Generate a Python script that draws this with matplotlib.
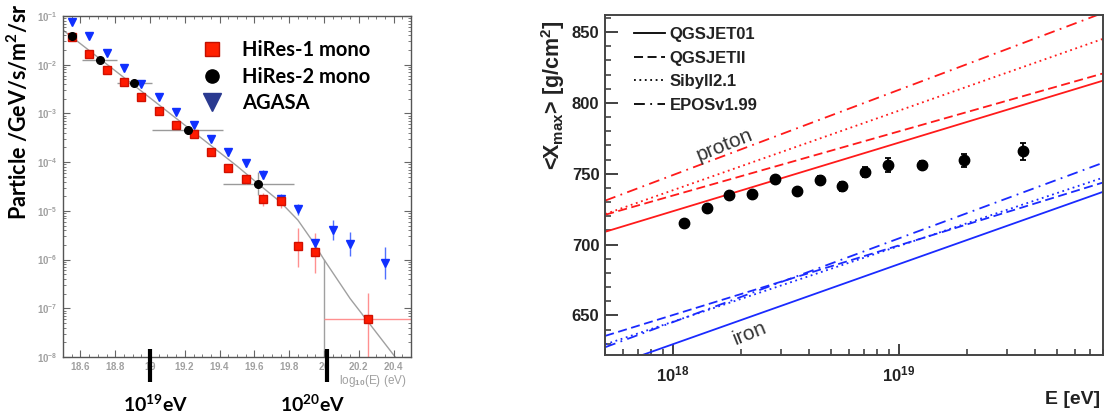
import numpy as np
import matplotlib
matplotlib.use('Agg')
import matplotlib.pyplot as plt
import matplotlib.transforms as mtransforms
from matplotlib.ticker import MultipleLocator, LogLocator, FuncFormatter, NullFormatter
from matplotlib.lines import Line2D

plt.rcParams['mathtext.fontset'] = 'custom'
plt.rcParams['mathtext.rm'] = 'Lato:bold'
plt.rcParams['mathtext.it'] = 'Lato:bold'
plt.rcParams['mathtext.bf'] = 'Lato:bold'
plt.rcParams['mathtext.sf'] = 'Liberation Sans:bold'
plt.rcParams['mathtext.tt'] = 'Liberation Sans'
plt.rcParams['font.family'] = ['Liberation Sans', 'DejaVu Sans']
plt.rcParams['font.weight'] = 'bold'

# ---------------- Left panel data (log10 E, log10 flux) ----------------
hires1_logE = [18.55, 18.65, 18.75, 18.85, 18.95, 19.05, 19.15, 19.25, 19.35, 19.45,
               19.55, 19.65, 19.75, 19.85, 19.95, 20.25]
hires1_logF = [-1.44, -1.77, -2.11, -2.36, -2.67, -2.95, -3.24, -3.42, -3.79, -4.11,
               -4.35, -4.76, -4.80, -5.72, -5.84, -7.21]
hires1_err_up = [0.03, 0.03, 0.03, 0.03, 0.03, 0.03, 0.04, 0.05, 0.05, 0.06,
                 0.08, 0.12, 0.12, 0.36, 0.38, 0.52]
hires1_err_dn = [0.03, 0.03, 0.03, 0.03, 0.03, 0.03, 0.04, 0.05, 0.05, 0.06,
                 0.09, 0.15, 0.15, 0.43, 0.44, 1.50]
hires1_xerr = [0, 0, 0, 0, 0, 0, 0, 0, 0, 0, 0, 0, 0, 0, 0, 0.25]

hires2_logE = [18.55, 18.71, 18.91, 19.22, 19.62]
hires2_logF = [-1.42, -1.90, -2.38, -3.34, -4.44]
hires2_xlo = [18.55, 18.61, 18.81, 19.01, 19.42]
hires2_xhi = [18.55, 18.81, 19.01, 19.42, 19.83]
hires2_err = [0.02, 0.03, 0.04, 0.08, 0.24]

agasa_logE = [18.55, 18.65, 18.75, 18.85, 18.95, 19.05, 19.15, 19.25, 19.35, 19.45,
              19.55, 19.65, 19.75, 19.85, 19.95, 20.05, 20.15, 20.35]
agasa_logF = [-1.12, -1.42, -1.75, -2.07, -2.40, -2.66, -2.98, -3.24, -3.53, -3.80,
              -4.01, -4.26, -4.76, -4.97, -5.67, -5.39, -5.68, -6.07]
agasa_err = [0.02, 0.02, 0.02, 0.03, 0.03, 0.03, 0.04, 0.05, 0.06, 0.07,
             0.08, 0.09, 0.1, 0.12, 0.1, 0.2, 0.25, 0.32]

fit_logE = [18.5, 19.0, 19.5, 19.62, 19.75, 19.85, 19.93, 20.0, 20.15, 20.42]
fit_logF = [-1.29, -2.68, -4.08, -4.44, -4.82, -5.19, -5.60, -6.00, -6.80, -8.05]
edge_logE = 20.0
edge_logF = -6.0

marker_logE = [19.0, 20.02]
marker_labels = ['10$^{19}$eV', '10$^{20}$eV']

# ---------------- Right panel data ----------------
xmax_logE = [18.05, 18.15, 18.25, 18.35, 18.45, 18.55, 18.65, 18.75, 18.85, 18.95,
             19.10, 19.29, 19.55]
xmax_val = [715, 725.5, 735, 736, 746, 737.5, 745.5, 741, 751, 756, 756, 759.5, 766]
xmax_err = [2, 2, 2, 2, 2.5, 2.5, 3, 3, 3.5, 5, 3, 4.5, 6]

model_names = ['QGSJET01', 'QGSJETII', 'Sibyll2.1', 'EPOSv1.99']
line_logE = [17.7, 19.9]
proton_xmax = [[709, 815.5], [721, 820.6], [721.5, 845], [731, 863.3]]
iron_xmax = [[612.7, 737], [635.5, 743.6], [629.5, 747], [627.5, 757.5]]

# ---------------- Figure ----------------
W, H = 1111, 415
fig = plt.figure(figsize=(W / 100, H / 100), dpi=100)


def fx(px):
    return px / W


def fy(py):
    return 1 - py / H


axL = fig.add_axes([fx(63), fy(357), 348 / W, 341 / H])
axR = fig.add_axes([fx(605), fy(355), 498 / W, 340 / H])

# ---------------- Left panel ----------------
RED = '#ff1a00'
axL.set_yscale('log')
axL.set_xlim(18.5, 20.5)
axL.set_ylim(1e-8, 1e-1)

axL.plot(fit_logE, 10 ** np.array(fit_logF), color='#a0a0a0', lw=1.0, zorder=1)
axL.plot([edge_logE, edge_logE], [10 ** edge_logF, 1e-8], color='#a0a0a0', lw=1.0, zorder=1)

# HiRes-2 horizontal bars
h2x = np.array(hires2_logE)
h2f = np.array(hires2_logF)
axL.errorbar(hires2_logE, 10 ** h2f,
             xerr=[h2x - np.array(hires2_xlo), np.array(hires2_xhi) - h2x],
             yerr=[10 ** h2f - 10 ** (h2f - np.array(hires2_err)),
                   10 ** (h2f + np.array(hires2_err)) - 10 ** h2f],
             fmt='none', ecolor='#9a9a9a', elinewidth=1.0, zorder=2)

# HiRes-1
f1 = np.array(hires1_logF)
axL.errorbar(hires1_logE, 10 ** f1, xerr=hires1_xerr,
             yerr=[10 ** f1 - 10 ** (f1 - np.array(hires1_err_dn)),
                   10 ** (f1 + np.array(hires1_err_up)) - 10 ** f1],
             fmt='none', ecolor='#ff9090', elinewidth=1.0, zorder=2)
axL.plot(hires1_logE, 10 ** f1, 's', color=RED, mec='#d01000', ms=6, zorder=4)

# AGASA
fa = np.array(agasa_logF)
axL.errorbar(agasa_logE, 10 ** fa,
             yerr=[10 ** fa - 10 ** (fa - np.array(agasa_err)),
                   10 ** (fa + np.array(agasa_err)) - 10 ** fa],
             fmt='none', ecolor='#5070ff', elinewidth=1.0, zorder=2)
axL.plot(agasa_logE, 10 ** fa, 'v', color='#1030ff', mec='#1030ff', ms=5.5, zorder=3)

# HiRes-2 points
axL.plot(hires2_logE, 10 ** h2f, 'o', color='black', ms=5.5, zorder=5)

for s in axL.spines.values():
    s.set_color('#555555')
    s.set_linewidth(1.0)
axL.xaxis.set_major_locator(MultipleLocator(0.2))
axL.xaxis.set_minor_locator(MultipleLocator(0.05))
axL.xaxis.set_major_formatter(FuncFormatter(lambda v, p: r'$\mathtt{%g}$' % round(v, 1)))
axL.yaxis.set_major_locator(LogLocator(base=10, numticks=12))
axL.yaxis.set_minor_locator(LogLocator(base=10, subs=np.arange(2, 10), numticks=12))
axL.yaxis.set_minor_formatter(NullFormatter())
axL.yaxis.set_major_formatter(FuncFormatter(lambda v, p: r'$\mathtt{10^{%d}}$' % int(round(np.log10(v)))))
axL.tick_params(which='both', direction='in', top=True, right=True, colors='#666666',
                labelcolor='#a0a0a0', labelsize=7)
axL.tick_params(which='major', length=5, width=0.8)
axL.tick_params(axis='x', which='major', pad=2.5)
axL.tick_params(axis='y', which='major', pad=4)
axL.tick_params(which='minor', length=2.5, width=0.6)

fig.text(fx(373), fy(381), r'log$_{\mathtt{10}}$(E) (eV)', color='#a0a0a0', fontsize=8.5,
         fontweight='normal', family='Liberation Sans', ha='center', va='center')

fig.text(fx(18), fy(112), 'Particle /GeV/s/m$^{2}$/sr', rotation=90, ha='center', va='center',
         fontsize=15.5, family='Lato', fontweight='bold', color='black')

# Left legend
hL = [Line2D([], [], marker='s', ls='none', color='#ff2000', mec='#c01000', ms=9.5),
      Line2D([], [], marker='o', ls='none', color='black', ms=9.5),
      Line2D([], [], marker='v', ls='none', color='#2a3a90', mec='#2a3a90', ms=13)]
legL = axL.legend(hL, ['HiRes-1 mono', 'HiRes-2 mono', 'AGASA'], loc='upper left',
                  bbox_to_anchor=(fx(200), fy(40)), bbox_transform=fig.transFigure,
                  frameon=False, borderpad=0, borderaxespad=0, handlelength=1.2,
                  handletextpad=0.9, labelspacing=0.33, numpoints=1,
                  prop=dict(family='Lato', weight='bold', size=14.5))

# thick markers + labels under left axis
trans = mtransforms.blended_transform_factory(axL.transData, axL.transAxes)
for xv in marker_logE:
    axL.plot([xv, xv], [0.0235, -0.073], transform=trans, color='black', lw=3,
             clip_on=False, solid_capstyle='butt', zorder=10)
fig.text(fx(156), fy(404), marker_labels[0], ha='center', va='center', fontsize=14,
         family='Lato', fontweight='bold')
fig.text(fx(313), fy(404), marker_labels[1], ha='center', va='center', fontsize=14,
         family='Lato', fontweight='bold')

# ---------------- Right panel ----------------
styles = ['-', (0, (5, 2.5)), (0, (1, 2)), (0, (6, 3, 1, 3))]
PRED = '#ff1a1a'
PBLUE = '#1a2aff'
axR.set_xscale('log')
axR.set_xlim(5e17, 8e19)
axR.set_ylim(622, 862)
Ex = 10 ** np.array(line_logE)
for i in range(4):
    axR.plot(Ex, proton_xmax[i], color=PRED, ls=styles[i], lw=1.3)
    axR.plot(Ex, iron_xmax[i], color=PBLUE, ls=styles[i], lw=1.3)

axR.errorbar(10 ** np.array(xmax_logE), xmax_val, yerr=xmax_err, fmt='o', color='black',
             ms=7.5, elinewidth=1.3, capsize=2.5, capthick=1.3, zorder=5)

axR.text(10 ** 18.23, 770.5, 'proton', rotation=22, ha='center', va='center', fontsize=15,
         fontweight='normal', color='#333333', family='Liberation Sans')
axR.text(10 ** 18.34, 637.5, 'iron', rotation=22, ha='center', va='center', fontsize=15,
         fontweight='normal', color='#333333', family='Liberation Sans')

for s in axR.spines.values():
    s.set_color('#444444')
    s.set_linewidth(1.4)
axR.yaxis.set_major_locator(MultipleLocator(50))
axR.yaxis.set_minor_locator(MultipleLocator(10))
axR.xaxis.set_major_locator(LogLocator(base=10, numticks=10))
axR.xaxis.set_minor_locator(LogLocator(base=10, subs=np.arange(2, 10), numticks=10))
axR.xaxis.set_minor_formatter(NullFormatter())
axR.xaxis.set_major_formatter(FuncFormatter(lambda v, p: r'$\mathsf{10^{%d}}$' % int(round(np.log10(v)))))
axR.tick_params(which='both', direction='in', top=False, right=False, colors='#333333',
                labelcolor='#222222', labelsize=12)
axR.tick_params(axis='y', which='major', length=9, width=1.3, pad=4)
axR.tick_params(axis='y', which='minor', length=4.5, width=1.1)
axR.tick_params(axis='x', which='major', length=8, width=1.3, pad=7)
axR.tick_params(axis='x', which='minor', length=4, width=1.1)
for lbl in axR.get_yticklabels():
    lbl.set_fontweight('bold')

fig.text(fx(553), fy(95), '<X$_{\\mathsf{max}}$> [g/cm$^{\\mathsf{2}}$]', rotation=90,
         ha='center', va='center', fontsize=15.5, fontweight='bold', color='#222222')
fig.text(fx(1100), fy(399), 'E [eV]', ha='right', va='center', fontsize=14,
         fontweight='bold', color='#222222')

hR = [Line2D([], [], color='black', ls=styles[i], lw=1.3) for i in range(4)]
legR = axR.legend(hR, model_names, loc='upper left',
                  bbox_to_anchor=(fx(634), fy(27)), bbox_transform=fig.transFigure,
                  frameon=False, borderpad=0, borderaxespad=0, handlelength=1.85,
                  handletextpad=0.3, labelspacing=0.52,
                  prop=dict(family='Liberation Sans', weight='bold', size=12))
for t in legR.get_texts():
    t.set_color('#222222')

fig.savefig('out.png', dpi=100)
